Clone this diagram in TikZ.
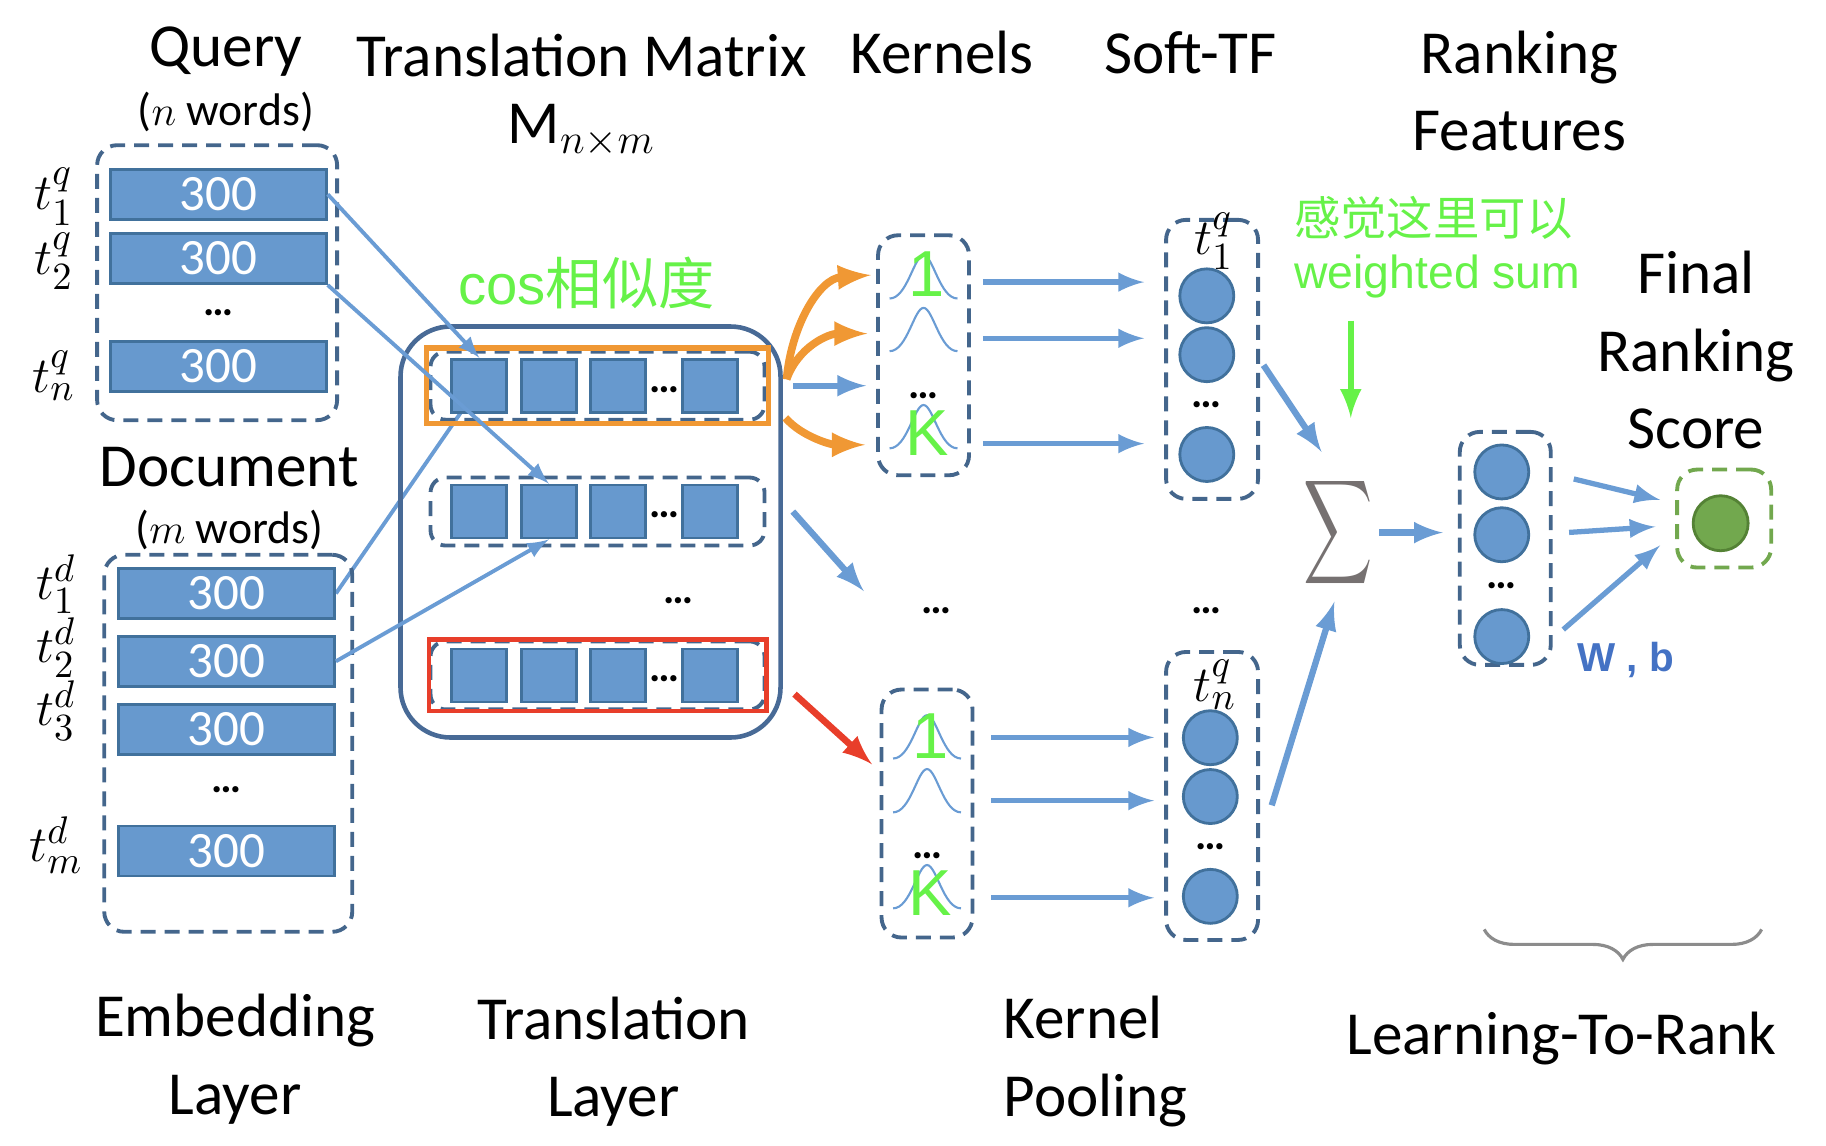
\documentclass[tikz,border=0pt]{standalone}
\usepackage{amsmath}
\usepackage{fontspec}
\setmainfont{Carlito}
\newfontfamily\cjkfont{Noto Sans CJK SC}
\newfontfamily\helfont{Liberation Sans}
\DeclareMathSizes{14}{14}{11}{9}
\usetikzlibrary{matrix,shapes,arrows,positioning,calc,fit,backgrounds,decorations.pathreplacing}

\definecolor{barblue}{RGB}{103,153,206}
\definecolor{barline}{RGB}{65,113,156}
\definecolor{dashline}{RGB}{68,102,140}
\definecolor{tlline}{RGB}{72,106,150}
\definecolor{arrblue}{RGB}{106,156,212}
\definecolor{hlgreen}{RGB}{102,242,72}
\definecolor{hlorange}{RGB}{240,152,52}
\definecolor{hlred}{RGB}{232,62,42}
\definecolor{finalgreen}{RGB}{114,168,78}
\definecolor{finaldark}{RGB}{84,130,53}
\definecolor{sumgray}{RGB}{118,113,113}
\definecolor{wbblue}{RGB}{68,114,196}
\definecolor{bracegray}{RGB}{140,140,140}

% one gaussian kernel: centre x, base y
\newcommand{\bump}[2]{%
  \draw[kcurve] (#1-29,#2) .. controls (#1-14,#2) and (#1-8,#2-37) .. (#1,#2-37)
    .. controls (#1+8,#2-37) and (#1+14,#2) .. (#1+29,#2);}

\begin{document}
\begin{tikzpicture}[x=0.11705mm, y=-0.11705mm,
    heading/.style={font=\fontsize{17.4}{22}\selectfont, align=center, inner sep=0pt},
    subhead/.style={font=\fontsize{13}{15}\selectfont, inner sep=0pt},
    tlab/.style={font=\fontsize{14}{16}\selectfont, inner sep=0pt},
    bar/.style={draw=barline, fill=barblue, line width=0.8pt, minimum width=21.6mm,
                minimum height=5mm, inner sep=0pt, text=white, font=\fontsize{14.5}{16}\selectfont},
    sq/.style={draw=barline, fill=barblue, line width=0.8pt, minimum width=5.5mm,
               minimum height=5.3mm, inner sep=0pt},
    unit/.style={circle, draw=barline, fill=barblue, line width=0.8pt, minimum size=5.4mm, inner sep=0pt},
    dbox/.style={draw=dashline, line width=1.1pt, dash pattern=on 1.5mm off 0.9mm,
                 rounded corners=2mm, inner sep=0pt},
    ell/.style={font=\fontsize{12}{14}\selectfont\bfseries, inner sep=0pt},
    hltext/.style={text=hlgreen, inner sep=0pt},
    klab/.style={text=hlgreen, inner sep=0pt, font=\helfont\fontsize{18.5}{20}\selectfont},
    kcurve/.style={draw=arrblue, line width=0.6pt},
    qline/.style={draw=arrblue, line width=1.1pt},
    qarr/.style={draw=arrblue, line width=1.1pt, -latex},
    arr/.style={draw=arrblue, line width=1.5pt, -latex},
    bigarr/.style={draw=arrblue, line width=1.8pt, -latex},
    orarr/.style={draw=hlorange, line width=2.2pt, -latex},
    redarr/.style={draw=hlred, line width=1.9pt, -latex},
    grarr/.style={draw=hlgreen, line width=1.8pt, -latex}]

  \useasboundingbox (0,0) rectangle (1560,979);

  % titles
  \node[heading, anchor=base] (qtitle) at (193,57) {Query};
  \node[subhead, anchor=base] (qsub) at (193,107) {($n$ words)};
  \node[heading, anchor=base] (tmtitle) at (497,65) {Translation Matrix};
  \node[heading, anchor=base] (mtitle) at (497,123) {M$_{n\times m}$};
  \node[heading, anchor=base] (ktitle) at (805,63) {Kernels};
  \node[heading, anchor=base] (stitle) at (1017,63) {Soft-TF};
  \node[heading] (rftitle) at (1298,78) {Ranking\\Features};
  \node[heading] (fstitle) at (1449,299) {Final\\Ranking\\Score};

  % embedding layer
  \node[dbox, minimum width=24mm, minimum height=27.5mm] (qbox) at (185.5,241.5) {};
  \matrix (qm) [matrix of nodes, row sep=1.15mm] at (186.5,239.5)
  {
    |[bar]| 300 \\
    |[bar]| 300 \\
    |[ell, minimum height=3.2mm]| \dots \\
    |[bar]| 300 \\
  };
  \node[tlab] (tq1) at (46,168) {$t_1^q$};
  \node[tlab] (tq2) at (46,223) {$t_2^q$};
  \node[tlab] (tqn) at (46,321) {$t_n^q$};

  \node[heading, anchor=base] (dtitle) at (196,416) {Document};
  \node[subhead, anchor=base] (dsub) at (196,464) {($m$ words)};
  \node[dbox, minimum width=24.8mm, minimum height=37.7mm] (docbox) at (195,635) {};
  \matrix (dm) [matrix of nodes, row sep=1.5mm] at (193.5,617)
  {
    |[bar]| 300 \\
    |[bar]| 300 \\
    |[bar]| 300 \\
    |[ell, minimum height=3.9mm]| \dots \\
    |[bar]| 300 \\
  };
  \node[tlab] (td1) at (48,499) {$t_1^d$};
  \node[tlab] (td2) at (48,553) {$t_2^d$};
  \node[tlab] (td3) at (48,607) {$t_3^d$};
  \node[tlab] (tdm) at (48,722) {$t_m^d$};

  % translation layer
  \node[draw=tlline, line width=1.3pt, rounded corners=5mm, minimum width=38mm,
        minimum height=41.1mm] (tl) at (504.5,454.5) {};
  \node[hltext, anchor=base, font=\fontsize{16}{18}\selectfont] (cos) at (501,260) {\helfont cos\cjkfont 相似度};
  \node[dbox, rounded corners=1.5mm, minimum width=33.4mm, minimum height=6.8mm] (row1) at (510.5,329.5) {};
  \node[dbox, rounded corners=1.5mm, minimum width=33.4mm, minimum height=6.8mm] (row2) at (510.5,437) {};
  \node[dbox, rounded corners=1.5mm, minimum width=33.4mm, minimum height=6.8mm] (row3) at (510.5,577) {};
  \matrix (m1) [matrix of nodes, column sep=1.17mm] at (508,329.5)
    { |[sq]| {} & |[sq]| {} & |[sq]| {} &[2.2mm] |[sq]| {} \\ };
  \matrix (m2) [matrix of nodes, column sep=1.17mm] at (508,437)
    { |[sq]| {} & |[sq]| {} & |[sq]| {} &[2.2mm] |[sq]| {} \\ };
  \matrix (m3) [matrix of nodes, column sep=1.17mm] at (508,577)
    { |[sq]| {} & |[sq]| {} & |[sq]| {} &[2.2mm] |[sq]| {} \\ };
  \node[ell] (m1d) at ($(m1-1-3)!0.5!(m1-1-4)+(0,3)$) {\dots};
  \node[ell] (m2d) at ($(m2-1-3)!0.5!(m2-1-4)+(0,3)$) {\dots};
  \node[ell] (m3d) at ($(m3-1-3)!0.5!(m3-1-4)+(0,3)$) {\dots};
  \node[ell] (tldots) at (580,513) {\dots};
  \node[draw=hlorange, line width=1.6pt, fit=(row1), inner sep=0.2mm] (hl1) {};
  \node[draw=hlred, line width=1.2pt, fit=(row3), inner sep=0pt] (hl3) {};

  % kernels
  \node[dbox, minimum width=9.1mm, minimum height=24mm] (k1) at (789,303.5) {};
  \node[dbox, minimum width=9.1mm, minimum height=24.8mm] (k2) at (792,695) {};
  \bump{789}{255} \bump{789}{300} \bump{789}{383}
  \bump{792}{648} \bump{792}{694} \bump{792}{776}
  \node[klab] (k1one) at (792,234) {1};
  \node[klab] (k1k) at (792,370) {K};
  \node[klab] (k2one) at (795,629) {1};
  \node[klab] (k2k) at (795,763) {K};
  \node[ell] (k1d) at (789,338) {\dots};
  \node[ell] (k2d) at (792,731) {\dots};
  \node[ell] (kdots) at (800,522) {\dots};
  \coordinate (k1a) at (789,241);
  \coordinate (k1b) at (789,289);
  \coordinate (k1c) at (789,379);
  \coordinate (k2a) at (792,630);
  \coordinate (k2b) at (792,684);
  \coordinate (k2c) at (792,767);

  % soft-TF
  \node[dbox, minimum width=9.2mm, minimum height=27.9mm] (s1) at (1035.5,307) {};
  \node[dbox, minimum width=9.2mm, minimum height=28.8mm] (s2) at (1035.5,680) {};
  \node[tlab] (s1lab) at (1037,206) {$t_1^q$};
  \node[tlab] (s2lab) at (1038,585) {$t_n^q$};
  \matrix (s1m) [matrix of nodes, row sep=0.2mm] at (1031,320.5)
  {
    |[unit]| {} \\
    |[unit]| {} \\
    |[ell, minimum height=3.9mm]| \dots \\
    |[unit]| {} \\
  };
  \matrix (s2m) [matrix of nodes, row sep=0.2mm] at (1034,698)
  {
    |[unit]| {} \\
    |[unit]| {} \\
    |[ell, minimum height=3.9mm]| \dots \\
    |[unit]| {} \\
  };
  \node[ell] (sdots) at (1031,522) {\dots};

  % learning to rank
  \node[text=sumgray, inner sep=0pt, font=\fontsize{20}{24}\selectfont] (sig) at (1143,455)
    {\scalebox{0.66}[1]{$\displaystyle\sum$}};
  \node[hltext, anchor=west, align=left, font=\fontsize{13.2}{15}\selectfont] (ws) at (1105,211)
    {\cjkfont 感觉这里可以\\\helfont weighted sum};
  \node[dbox, minimum width=9.1mm, minimum height=23.3mm] (rbox) at (1286,468.5) {};
  \matrix (rm) [matrix of nodes, row sep=0.6mm] at (1283,473.5)
  {
    |[unit]| {} \\
    |[unit]| {} \\
    |[ell, minimum height=3.3mm]| \dots \\
    |[unit]| {} \\
  };
  \node[dbox, draw=finalgreen, minimum width=9.4mm, minimum height=9.8mm] (fbox) at (1473,443) {};
  \node[circle, draw=finaldark, fill=finalgreen, line width=0.8pt, minimum size=5.5mm,
        inner sep=0pt] (fin) at (1470,447) {};
  \node[anchor=base, text=wbblue, inner sep=0pt, font=\helfont\bfseries\fontsize{11.5}{13}\selectfont] (wb) at (1389,574) {W , b};
  \coordinate (bl) at (1268,794);
  \coordinate (br) at (1505,794);
  \draw[draw=bracegray, line width=0.9pt, decorate, decoration={brace, mirror, amplitude=3mm}] (bl) -- (br);

  % bottom labels
  \node[heading] (emb) at (201,905) {Embedding\\Layer};
  \node[heading] (trl) at (524,907) {Translation\\Layer};
  \node[heading, align=left, anchor=west] (kpl) at (857,907) {Kernel\\Pooling};
  \node[heading, anchor=base] (ltr) at (1334,901) {Learning-To-Rank};

  % connectors
  \begin{scope}[on background layer]
    \draw[qline] (dm-1-1.east) -- (m1-1-1.center);
  \end{scope}
  \draw[qarr] (qm-1-1.east) -- (m1-1-1.north);
  \draw[qarr] (qm-2-1.south east) -- (m2-1-2.north);
  \draw[qarr] (dm-2-1.east) -- (m2-1-2.south);

  \coordinate (os1) at (672,324);
  \coordinate (os2) at (671,357);
  \coordinate (ot1) at (744,235);
  \coordinate (ot2) at (741,285);
  \coordinate (ot3) at (739,380);
  \draw[orarr] (os1) .. controls (676,278) and (700,238) .. (ot1);
  \draw[orarr] (os1) .. controls (682,296) and (708,285) .. (ot2);
  \draw[orarr] (os2) .. controls (685,373) and (710,380) .. (ot3);
  \draw[bigarr] ([xshift=1mm]tl.east |- row1) -- ([xshift=-1mm]k1.west |- row1);
  \coordinate (kin) at (738,505);
  \draw[bigarr] ([xshift=1mm]tl.east |- row2) -- (kin);
  \coordinate (kred) at (745,653);
  \draw[redarr] ([shift={(10,16)}]tl.east |- row3) -- (kred);

  \draw[arr, shorten <=1.2mm, shorten >=2mm] (k1.east |- k1a) -- (s1.west |- k1a);
  \draw[arr, shorten <=1.2mm, shorten >=2mm] (k1.east |- k1b) -- (s1.west |- k1b);
  \draw[arr, shorten <=1.2mm, shorten >=2mm] (k1.east |- k1c) -- (s1.west |- k1c);
  \draw[arr, shorten <=1.7mm, shorten >=1mm] (k2.east |- k2a) -- (s2.west |- k2a);
  \draw[arr, shorten <=1.7mm, shorten >=1mm] (k2.east |- k2b) -- (s2.west |- k2b);
  \draw[arr, shorten <=1.7mm, shorten >=1mm] (k2.east |- k2c) -- (s2.west |- k2c);

  \draw[bigarr] ([shift={(3,5)}]s1.east) -- ([shift={(-14,-69)}]sig.center);
  \draw[bigarr] ([shift={(10,8)}]s2.east) -- ([shift={(-3,59)}]sig.center);
  \draw[grarr] ([shift={(11,19)}]sig.north |- ws.south) -- ([shift={(11,-98)}]sig.center);
  \draw[bigarr, shorten <=0.6mm, shorten >=1.5mm] (sig.east) -- (rbox.west |- sig.east);

  \draw[arr] ([shift={(18,6)}]rbox.east |- rm-1-1) -- ([shift={(-13,-16)}]fbox.west);
  \draw[arr] ([shift={(14,-2)}]rbox.east |- rm-2-1) -- ([shift={(-17,7)}]fbox.west);
  \draw[arr] ([shift={(9,-6)}]rbox.east |- rm-4-1) -- ([shift={(-13,23)}]fbox.west);
\end{tikzpicture}
\end{document}
